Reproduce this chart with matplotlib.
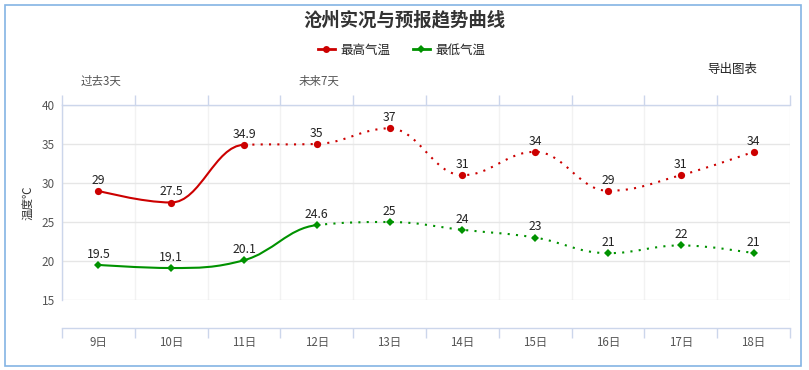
import matplotlib
matplotlib.use("Agg")
import matplotlib.pyplot as plt
from matplotlib.path import Path
from matplotlib.patches import PathPatch, Rectangle
from matplotlib.lines import Line2D
from matplotlib.ticker import FixedLocator, NullFormatter, FixedFormatter
import matplotlib.transforms as mtransforms

plt.rcParams['font.family'] = ['Noto Sans CJK SC', 'DejaVu Sans']

days = ['9日', '10日', '11日', '12日', '13日', '14日', '15日', '16日', '17日', '18日']
high = [29, 27.5, 34.9, 35, 37, 31, 34, 29, 31, 34]
low = [19.5, 19.1, 20.1, 24.6, 25, 24, 23, 21, 22, 21]
high_solid_end = 2   # solid line up to this index
low_solid_end = 3
top_labels = ['过去3天', '未来7天']
top_label_pos = [0, 3]
yticks = [15, 20, 25, 30, 35, 40]

RED = '#cc0000'
GREEN = '#009200'
AXC = '#ccd6eb'

def spline_segments(xs, ys, smoothing=1.5):
    n = len(xs)
    denom = smoothing + 1
    left = [None] * n
    right = [None] * n
    for i in range(1, n - 1):
        px, py = xs[i], ys[i]
        lx, ly = xs[i - 1], ys[i - 1]
        nx, ny = xs[i + 1], ys[i + 1]
        lcx = (smoothing * px + lx) / denom
        lcy = (smoothing * py + ly) / denom
        rcx = (smoothing * px + nx) / denom
        rcy = (smoothing * py + ny) / denom
        corr = 0
        if rcx != lcx:
            corr = ((rcy - lcy) * (rcx - px)) / (rcx - lcx) + py - rcy
        lcy += corr
        rcy += corr
        if lcy > ly and lcy > py:
            lcy = max(ly, py); rcy = 2 * py - lcy
        elif lcy < ly and lcy < py:
            lcy = min(ly, py); rcy = 2 * py - lcy
        if rcy > ny and rcy > py:
            rcy = max(ny, py); lcy = 2 * py - rcy
        elif rcy < ny and rcy < py:
            rcy = min(ny, py); lcy = 2 * py - rcy
        left[i] = (lcx, lcy)
        right[i] = (rcx, rcy)
    segs = []
    for i in range(1, n):
        p0 = (xs[i - 1], ys[i - 1])
        c1 = right[i - 1] if right[i - 1] is not None else p0
        p3 = (xs[i], ys[i])
        c2 = left[i] if left[i] is not None else p3
        segs.append((p0, c1, c2, p3))
    return segs

def seg_path(segs):
    verts = [segs[0][0]]
    codes = [Path.MOVETO]
    for p0, c1, c2, p3 in segs:
        verts += [c1, c2, p3]
        codes += [Path.CURVE4] * 3
    return Path(verts, codes)

W, H = 809, 370
fig = plt.figure(figsize=(W / 100, H / 100), dpi=100)
ax = fig.add_axes([62 / W, 1 - 300 / H, (790 - 62) / W, (300 - 105) / H])

xs = list(range(len(days)))
for vals, split, color, marker, ms in [(high, high_solid_end, RED, 'o', 5.2),
                                       (low, low_solid_end, GREEN, 'D', 4.2)]:
    segs = spline_segments(xs, vals)
    solid = PathPatch(seg_path(segs[:split]), fill=False, edgecolor=color, lw=1.5,
                      capstyle='round', joinstyle='round', zorder=3)
    ax.add_patch(solid)
    dotted = PathPatch(seg_path(segs[split:]), fill=False, edgecolor=color, lw=1.5,
                       linestyle=(0, (1, 3)), capstyle='butt', zorder=3)
    ax.add_patch(dotted)
    ax.plot(xs, vals, linestyle='none', marker=marker, ms=ms, mew=0, color=color, zorder=4)
    for x, v in zip(xs, vals):
        ax.annotate(f'{v:g}', (x, v), xytext=(0, 3), textcoords='offset points',
                    ha='center', va='bottom', fontsize=8.8, color='#222222', zorder=5)

ax.set_xlim(-0.5, len(days) - 0.5)
ax.set_ylim(15, 40)

bounds = [i - 0.5 for i in range(len(days) + 1)]
ax.xaxis.set_major_locator(FixedLocator(bounds))
ax.xaxis.set_major_formatter(NullFormatter())
ax.xaxis.set_minor_locator(FixedLocator(xs))
ax.xaxis.set_minor_formatter(FixedFormatter(days))
ax.tick_params(axis='x', which='major', direction='out', length=7.2, width=1,
               color=AXC, top=True, bottom=True)
ax.tick_params(axis='x', which='minor', length=0, pad=6, labelsize=8.3, labelcolor='#555555')

ax.set_yticks(yticks)
ax.tick_params(axis='y', length=0, pad=5, labelsize=8.5, labelcolor='#555555')

ax.grid(axis='y', color='#e6e6e6', lw=1)
ax.grid(axis='x', which='major', color='#f2f2f2', lw=1)
ax.set_axisbelow(True)

ax.spines['right'].set_visible(False)
for s in ['left', 'top', 'bottom']:
    ax.spines[s].set_color(AXC)
    ax.spines[s].set_linewidth(1)
ax.spines['bottom'].set_position(('outward', 20.2))

trans = mtransforms.blended_transform_factory(ax.transData, ax.transAxes)
for lbl, pos in zip(top_labels, top_label_pos):
    ax.annotate(lbl, (pos + 0.03, 1), xycoords=trans, xytext=(0, 17.3),
                textcoords='offset points', ha='center', va='center',
                fontsize=8.3, color='#555555')

ax.set_ylabel('温度℃', fontsize=8.3, color='#333333', labelpad=5)

fig.text(0.5, 1 - 20 / H, '沧州实况与预报趋势曲线', ha='center', va='center',
         fontsize=13.2, fontweight='bold', color='#333333')
fig.text(732 / W, 1 - 69 / H, '导出图表', ha='center', va='center',
         fontsize=9, color='#222222')

handles = [Line2D([], [], color=RED, lw=2, marker='o', ms=5, mew=0),
           Line2D([], [], color=GREEN, lw=2, marker='D', ms=3.8, mew=0)]
fig.legend(handles, ['最高气温', '最低气温'], loc='center', ncol=2,
           bbox_to_anchor=(402 / W, 1 - 50 / H), frameon=False, fontsize=9,
           handlelength=1.3, handletextpad=0.5, columnspacing=1.8,
           labelcolor='#222222')

fig.patches.append(Rectangle((4.5 / W, 4.5 / H), 796.5 / W, 361 / H,
                             transform=fig.transFigure, fill=False,
                             edgecolor='#84b4e4', lw=1.2))

fig.savefig('out.png', dpi=100)
